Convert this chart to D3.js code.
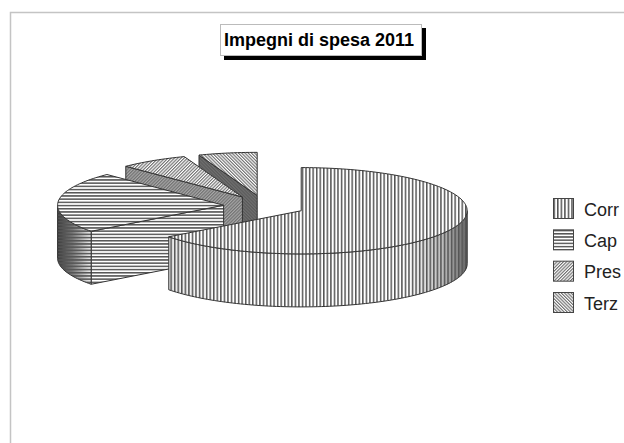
<!DOCTYPE html>
<html><head><meta charset="utf-8">
<script src="https://cdn.jsdelivr.net/npm/d3@7/dist/d3.min.js"></script>
<style>html,body{margin:0;padding:0;background:#fff}svg{display:block}text{font-family:"Liberation Sans",Arial,sans-serif}</style>
</head><body><div id="c"></div>
<script>
const titleText = "Impegni di spesa 2011";
const categories = ["Corr","Cap","Pres","Terz"];
const values = [64.7,22.9,6.7,5.7];

const W=624,H=443;
const cx=264.5,cy=206,rx=166,k=0.26,explode=41,depth=53;
const svg=d3.select("#c").append("svg").attr("width",W).attr("height",H);
const defs=svg.append("defs");

function pat(id,size,rot,w,col){
  const p=defs.append("pattern").attr("id",id).attr("patternUnits","userSpaceOnUse")
    .attr("width",size).attr("height",size).attr("patternTransform",`rotate(${rot})`);
  p.append("rect").attr("x",0).attr("y",0).attr("width",w).attr("height",size).attr("fill",col);
}
const patterns=[
  {id:"pCorr",size:3.55,rot:0,w:1.5,col:"#555"},
  {id:"pCap",size:3.2,rot:90,w:1.5,col:"#555"},
  {id:"pPres",size:2.3,rot:45,w:1.15,col:"#707070"},
  {id:"pTerz",size:2.3,rot:-45,w:1.15,col:"#707070"}
];
patterns.forEach(p=>pat(p.id,p.size,p.rot,p.w,p.col));

function grad(id,x1,x2,stops){
  const g=defs.append("linearGradient").attr("id",id).attr("gradientUnits","userSpaceOnUse")
    .attr("x1",x1).attr("x2",x2).attr("y1",0).attr("y2",0);
  stops.forEach(s=>g.append("stop").attr("offset",s[0]).attr("stop-color",s[1]));
}
grad("gCorr",168,467,[[0,"#e6e6e6"],[0.2,"#fff"],[0.8,"#fff"],[0.92,"#bbb"],[1,"#666"]]);
grad("gCap",58,90,[[0,"#3c3c3c"],[0.45,"#777"],[1,"#e8e8e8"]]);
defs.append("filter").attr("id","soft").append("feGaussianBlur").attr("stdDeviation",0.3);

// frame
svg.append("path").attr("d",`M10.5,${H} V12.5 H${W}`).attr("fill","none").attr("stroke","#c4c4c4").attr("stroke-width",1.5);

const pie=d3.pie().sort(null).value(d=>d);
const arcs=pie(values);
const line=d3.line();
const wallFill=[null,"#fff","#a8a8a8","#5a5a5a"];
const archFill=["url(#gCorr)","url(#gCap)","#a8a8a8","#5a5a5a"];
const chart=svg.append("g").attr("filter","url(#soft)");

function pt(c,a,dy=0){return [c.x+rx*Math.sin(a),c.y-rx*k*Math.cos(a)+dy];}
function samples(a0,a1){const n=Math.max(2,Math.ceil((a1-a0)*40));return d3.range(n+1).map(i=>a0+(a1-a0)*i/n);}
function layer(g,d,fill,i){
  g.append("path").attr("d",d).attr("fill",fill).attr("stroke","none");
  g.append("path").attr("d",d).attr("fill",`url(#${patterns[i].id})`).attr("stroke","#333").attr("stroke-width",1);
}
// painter's order: back slices first
d3.range(arcs.length).reverse().forEach(i=>{
  const a=arcs[i],mid=(a.startAngle+a.endAngle)/2;
  const c={x:cx+explode*Math.sin(mid),y:cy-explode*k*Math.cos(mid)};
  const g=chart.append("g");
  if(i>0){
    const p=pt(c,a.startAngle);
    layer(g,line([[c.x,c.y],p,[p[0],p[1]+depth],[c.x,c.y+depth]])+"Z",wallFill[i],i);
  }
  const r0=Math.max(a.startAngle,Math.PI/2),r1=Math.min(a.endAngle,3*Math.PI/2);
  if(r1>r0){
    const s=samples(r0,r1);
    const pts=s.map(t=>pt(c,t)).concat(s.slice().reverse().map(t=>pt(c,t,depth)));
    layer(g,line(pts)+"Z",archFill[i],i);
  }
  const s=samples(a.startAngle,a.endAngle);
  layer(g,line([[c.x,c.y]].concat(s.map(t=>pt(c,t))))+"Z","#fff",i);
});

// legend
const legY=d3.scalePoint().domain(categories).range([198,292]);
const leg=svg.append("g").selectAll("g").data(categories).join("g")
  .attr("transform",d=>`translate(553.5,${legY(d)+.5})`);
leg.append("rect").attr("width",20).attr("height",20).attr("fill","#fff");
leg.append("rect").attr("width",20).attr("height",20)
  .attr("fill",(d,i)=>`url(#${patterns[i].id})`).attr("stroke","#444").attr("stroke-width",1);
leg.append("text").attr("x",30.5).attr("y",17).attr("font-size",18).attr("fill","#222").text(d=>d);

// title
const t=svg.append("g");
t.append("rect").attr("x",224).attr("y",28).attr("width",202).attr("height",32).attr("fill","#000");
t.append("rect").attr("x",220.5).attr("y",24.5).attr("width",201).attr("height",31).attr("fill","#fff").attr("stroke","#bbb");
t.append("text").attr("x",224).attr("y",45.5).attr("font-size",18).attr("font-weight","bold").attr("fill","#000").text(titleText);
</script></body></html>
